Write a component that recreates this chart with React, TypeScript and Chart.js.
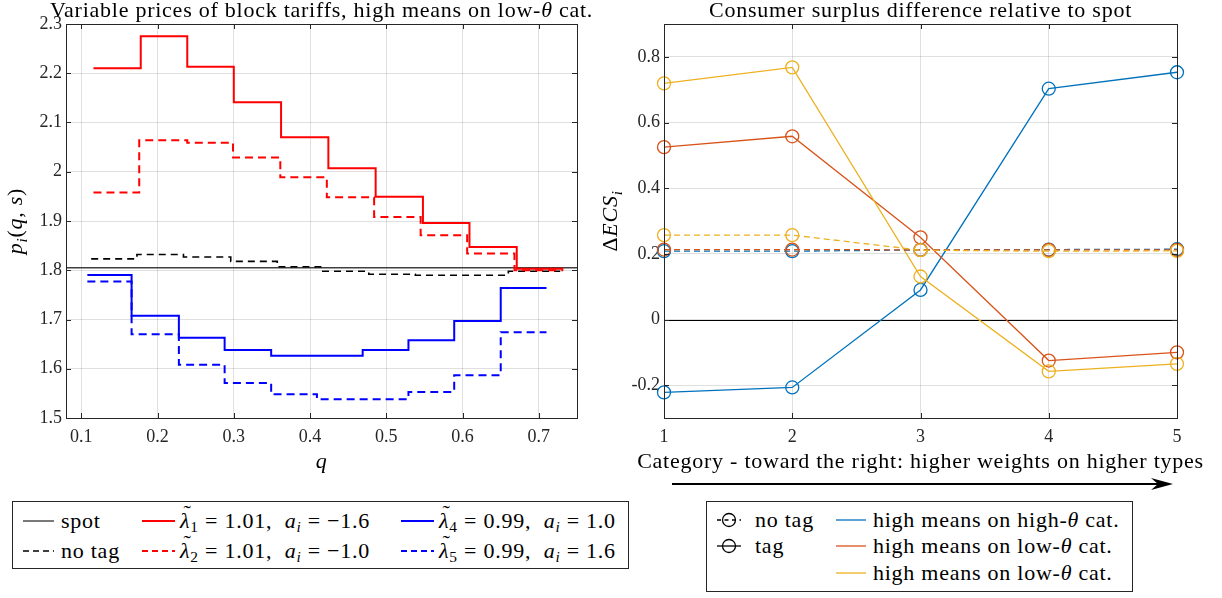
import React, { useEffect, useRef } from 'react';
import { Chart, registerables } from 'chart.js';

Chart.register(...registerables);

const FONT = "'Liberation Serif', 'Times New Roman', serif";
const AXIS_COLOR = '#262626';
const GRID_COLOR = 'rgba(38,38,38,0.15)';
const LABEL_SIZE = 22;
const LETTER_SP = '0.75px';

// ---------------- Left chart data ----------------
const qTicks = [0.1, 0.2, 0.3, 0.4, 0.5, 0.6, 0.7];
const priceTicks = [1.5, 1.6, 1.7, 1.8, 1.9, 2.0, 2.1, 2.2, 2.3];
const qMin = 0.08;
const qMax = 0.75;
const priceMin = 1.5;
const priceMax = 2.3;
const spotPrice = 1.805;

const noTagEdges = [0.113, 0.173, 0.234, 0.296, 0.357, 0.415, 0.477, 0.538, 0.599, 0.66, 0.728];
const noTagPrices = [1.823, 1.832, 1.827, 1.818, 1.807, 1.798, 1.792, 1.790, 1.790, 1.798];

const lambda1Edges = [0.116, 0.178, 0.239, 0.3, 0.362, 0.424, 0.486, 0.548, 0.609, 0.671, 0.732];
const lambda1Prices = [2.21, 2.275, 2.213, 2.141, 2.07, 2.007, 1.949, 1.896, 1.847, 1.803];

const lambda2Edges = [0.116, 0.176, 0.239, 0.299, 0.361, 0.422, 0.484, 0.545, 0.606, 0.668, 0.732];
const lambda2Prices = [1.958, 2.064, 2.059, 2.029, 1.989, 1.948, 1.908, 1.871, 1.834, 1.8];

const lambda45Edges = [0.108, 0.166, 0.228, 0.288, 0.349, 0.409, 0.469, 0.529, 0.589, 0.65, 0.71];
const lambda4Prices = [1.7905, 1.7075, 1.663, 1.638, 1.6265, 1.6265, 1.638, 1.658, 1.697, 1.764];
const lambda5Prices = [1.777, 1.67, 1.608, 1.571, 1.548, 1.538, 1.538, 1.553, 1.587, 1.674];

// ---------------- Right chart data ----------------
const categories = [1, 2, 3, 4, 5];
const csTicks = [-0.2, 0, 0.2, 0.4, 0.6, 0.8];
const csMin = -0.3;
const csMax = 0.9;
const zeroLevel = 0;

const tagHighOnHigh = [-0.222, -0.207, 0.09, 0.703, 0.753];
const tagHighOnLowA = [0.525, 0.558, 0.25, -0.125, -0.1];
const tagHighOnLowB = [0.719, 0.768, 0.131, -0.158, -0.135];
const noTagHighOnHigh = [0.208, 0.208, 0.212, 0.213, 0.214];
const noTagHighOnLowA = [0.213, 0.213, 0.212, 0.212, 0.212];
const noTagHighOnLowB = [0.257, 0.257, 0.211, 0.208, 0.209];

const BLUE = '#0072BD';
const ORANGE = '#D95319';
const YELLOW = '#EDB120';

type Seg = { t: string; it?: boolean; sub?: boolean };

function segFont(s: Seg, size: number) {
  const sz = s.sub ? Math.round(size * 0.7) : size;
  return `${s.it ? 'italic ' : ''}${sz}px ${FONT}`;
}

function drawRich(ctx: CanvasRenderingContext2D, segs: Seg[], size: number, x: number, y: number, rotate: boolean) {
  ctx.save();
  ctx.translate(x, y);
  if (rotate) ctx.rotate(-Math.PI / 2);
  ctx.textAlign = 'left';
  ctx.textBaseline = 'alphabetic';
  ctx.fillStyle = '#000';
  (ctx as any).letterSpacing = LETTER_SP;
  let total = 0;
  const widths = segs.map((s) => {
    ctx.font = segFont(s, size);
    const w = ctx.measureText(s.t).width;
    total += w;
    return w;
  });
  let cx = -total / 2;
  segs.forEach((s, i) => {
    ctx.font = segFont(s, size);
    ctx.fillText(s.t, cx, s.sub ? size * 0.22 : 0);
    cx += widths[i];
  });
  ctx.restore();
}

interface FrameCfg {
  title: Seg[];
  titleBaseline: number;
  ylabel: Seg[];
  ylabelX: number;
  xlabel: Seg[];
  xlabelBaseline: number;
  zero?: number;
  arrowY?: number;
}

function makeFramePlugin(cfg: FrameCfg) {
  return {
    id: 'matlabFrame',
    beforeDatasetsDraw(chart: any) {
      const { ctx, chartArea } = chart;
      if (cfg.zero !== undefined) {
        const y = Math.round(chart.scales.y.getPixelForValue(cfg.zero)) + 0.5;
        ctx.save();
        ctx.strokeStyle = '#000';
        ctx.lineWidth = 1;
        ctx.beginPath();
        ctx.moveTo(chartArea.left, y);
        ctx.lineTo(chartArea.right, y);
        ctx.stroke();
        ctx.restore();
      }
    },
    afterDraw(chart: any) {
      const { ctx, chartArea } = chart;
      const { left, right, top, bottom } = chartArea;
      ctx.save();
      ctx.strokeStyle = AXIS_COLOR;
      ctx.lineWidth = 1;
      ctx.strokeRect(Math.round(left) + 0.5, Math.round(top) + 0.5, Math.round(right - left), Math.round(bottom - top));
      const tl = 5;
      ctx.beginPath();
      chart.scales.x.ticks.forEach((t: any) => {
        const x = Math.round(chart.scales.x.getPixelForValue(t.value)) + 0.5;
        ctx.moveTo(x, bottom);
        ctx.lineTo(x, bottom - tl);
        ctx.moveTo(x, top);
        ctx.lineTo(x, top + tl);
      });
      chart.scales.y.ticks.forEach((t: any) => {
        const y = Math.round(chart.scales.y.getPixelForValue(t.value)) + 0.5;
        ctx.moveTo(left, y);
        ctx.lineTo(left + tl, y);
        ctx.moveTo(right, y);
        ctx.lineTo(right - tl, y);
      });
      ctx.stroke();
      ctx.restore();

      drawRich(ctx, cfg.title, LABEL_SIZE, (left + right) / 2, cfg.titleBaseline, false);
      drawRich(ctx, cfg.ylabel, LABEL_SIZE, cfg.ylabelX, (top + bottom) / 2, true);
      drawRich(ctx, cfg.xlabel, LABEL_SIZE, (left + right) / 2, cfg.xlabelBaseline, false);

      if (cfg.arrowY !== undefined) {
        const y = cfg.arrowY;
        const x1 = left + 8;
        const x2 = right - 4;
        ctx.save();
        ctx.strokeStyle = '#000';
        ctx.fillStyle = '#000';
        ctx.lineWidth = 2;
        ctx.beginPath();
        ctx.moveTo(x1, y);
        ctx.lineTo(x2 - 12, y);
        ctx.stroke();
        ctx.beginPath();
        ctx.moveTo(x2, y);
        ctx.lineTo(x2 - 22, y - 6);
        ctx.lineTo(x2 - 15, y);
        ctx.lineTo(x2 - 22, y + 6);
        ctx.closePath();
        ctx.fill();
        ctx.restore();
      }
    },
  };
}

function steps(edges: number[], levels: number[]) {
  return edges.map((x, i) => ({ x, y: levels[Math.min(i, levels.length - 1)] }));
}

function scalesFor(o: {
  xMin: number; xMax: number; xTicks: number[];
  yMin: number; yMax: number; yTicks: number[];
  yWidth: number; xHeight: number;
}) {
  const tickFont = { family: FONT, size: 18 };
  return {
    x: {
      type: 'linear',
      min: o.xMin,
      max: o.xMax,
      afterBuildTicks: (s: any) => { s.ticks = o.xTicks.map((v) => ({ value: v })); },
      afterFit: (s: any) => { s.height = o.xHeight; },
      grid: { color: GRID_COLOR, lineWidth: 1, drawTicks: false },
      border: { display: false },
      ticks: { font: tickFont, color: AXIS_COLOR, padding: 8, maxRotation: 0, callback: (v: any) => `${Number(v)}` },
    },
    y: {
      type: 'linear',
      min: o.yMin,
      max: o.yMax,
      afterBuildTicks: (s: any) => { s.ticks = o.yTicks.map((v) => ({ value: v })); },
      afterFit: (s: any) => { s.width = o.yWidth; },
      grid: { color: GRID_COLOR, lineWidth: 1, drawTicks: false },
      border: { display: false },
      ticks: { font: tickFont, color: AXIS_COLOR, padding: 4, callback: (v: any) => `${Number(v)}` },
    },
  };
}

function leftConfig(): any {
  const stepDs = (label: string, edges: number[], levels: number[], color: string, width: number, dash: number[]) => ({
    label,
    data: steps(edges, levels),
    stepped: 'before',
    borderColor: color,
    borderWidth: width,
    borderDash: dash,
    pointRadius: 0,
    fill: false,
  });
  return {
    type: 'line',
    data: {
      datasets: [
        stepDs('λ1', lambda1Edges, lambda1Prices, '#FF0000', 2, []),
        stepDs('λ2', lambda2Edges, lambda2Prices, '#FF0000', 2, [8, 5]),
        stepDs('λ4', lambda45Edges, lambda4Prices, '#0000FF', 2, []),
        stepDs('λ5', lambda45Edges, lambda5Prices, '#0000FF', 2, [8, 5]),
        stepDs('no tag', noTagEdges, noTagPrices, '#000000', 1.6, [7, 5]),
        {
          label: 'spot',
          data: [{ x: qMin, y: spotPrice }, { x: qMax, y: spotPrice }],
          borderColor: '#404040',
          borderWidth: 1.4,
          pointRadius: 0,
          fill: false,
        },
      ],
    },
    options: {
      responsive: false,
      animation: false,
      layout: { padding: { left: 0, right: 23, top: 24, bottom: 0 } },
      plugins: { legend: { display: false }, tooltip: { enabled: false }, title: { display: false } },
      scales: scalesFor({
        xMin: qMin, xMax: qMax, xTicks: qTicks,
        yMin: priceMin, yMax: priceMax, yTicks: priceTicks,
        yWidth: 66, xHeight: 62,
      }),
    },
    plugins: [
      makeFramePlugin({
        title: [
          { t: 'Variable prices of block tariffs, high means on low-' },
          { t: 'θ', it: true },
          { t: ' cat.' },
        ],
        titleBaseline: 17,
        ylabel: [
          { t: 'p', it: true },
          { t: 'i', it: true, sub: true },
          { t: '(' },
          { t: 'q', it: true },
          { t: ', ' },
          { t: 's', it: true },
          { t: ')' },
        ],
        ylabelX: 22,
        xlabel: [{ t: 'q', it: true }],
        xlabelBaseline: 468,
      }),
    ],
  };
}

function rightConfig(): any {
  const ds = (label: string, values: number[], color: string, dash: number[]) => ({
    label,
    data: categories.map((c, i) => ({ x: c, y: values[i] })),
    borderColor: color,
    borderWidth: 1.3,
    borderDash: dash,
    pointRadius: 6.5,
    pointBorderWidth: 1.3,
    pointBorderColor: color,
    pointBackgroundColor: 'rgba(0,0,0,0)',
    fill: false,
    clip: false,
  });
  return {
    type: 'line',
    data: {
      datasets: [
        ds('no tag low B', noTagHighOnLowB, YELLOW, [6, 4]),
        ds('no tag low A', noTagHighOnLowA, ORANGE, [6, 4]),
        ds('no tag high', noTagHighOnHigh, BLUE, [6, 4]),
        ds('tag low B', tagHighOnLowB, YELLOW, []),
        ds('tag low A', tagHighOnLowA, ORANGE, []),
        ds('tag high', tagHighOnHigh, BLUE, []),
      ],
    },
    options: {
      responsive: false,
      animation: false,
      layout: { padding: { left: 0, right: 45, top: 24, bottom: 0 } },
      plugins: { legend: { display: false }, tooltip: { enabled: false }, title: { display: false } },
      scales: scalesFor({
        xMin: categories[0], xMax: categories[categories.length - 1], xTicks: categories,
        yMin: csMin, yMax: csMax, yTicks: csTicks,
        yWidth: 64, xHeight: 82,
      }),
    },
    plugins: [
      makeFramePlugin({
        title: [{ t: 'Consumer surplus difference relative to spot' }],
        titleBaseline: 17,
        ylabel: [
          { t: 'Δ' },
          { t: 'ECS', it: true },
          { t: 'i', it: true, sub: true },
        ],
        ylabelX: 17,
        xlabel: [{ t: 'Category - toward the right: higher weights on higher types' }],
        xlabelBaseline: 468,
        zero: zeroLevel,
        arrowY: 484,
      }),
    ],
  };
}

// ---------------- Legends (HTML) ----------------
const subStyle: React.CSSProperties = { fontSize: '0.7em', position: 'relative', top: '0.28em', lineHeight: 0 };

function Lam({ n }: { n: number }) {
  return (
    <span>
      <span style={{ position: 'relative', display: 'inline-block' }}>
        <i>λ</i>
        <span style={{ position: 'absolute', left: '0.16em', top: '-0.36em', fontSize: '1em' }}>˜</span>
      </span>
      <span style={subStyle}>{n}</span>
    </span>
  );
}

function Ai() {
  return (
    <i>
      a<span style={subStyle}>i</span>
    </i>
  );
}

function LineSample(p: { x: number; y: number; w: number; color: string; width: number; dash?: string }) {
  return (
    <svg style={{ position: 'absolute', left: p.x, top: p.y - 8, overflow: 'visible' }} width={p.w} height={16}>
      <line x1={0} y1={8} x2={p.w} y2={8} stroke={p.color} strokeWidth={p.width} strokeDasharray={p.dash} />
    </svg>
  );
}

function MarkerSample(p: { x: number; y: number; dashed: boolean }) {
  return (
    <svg style={{ position: 'absolute', left: p.x, top: p.y - 8, overflow: 'visible' }} width={24} height={16}>
      <line x1={0} y1={8} x2={24} y2={8} stroke="#000" strokeWidth={1.3} strokeDasharray={p.dashed ? '4,3.5' : undefined} />
      <circle cx={12} cy={8} r={6.5} fill="none" stroke="#000" strokeWidth={1.3} />
    </svg>
  );
}

const textStyle = (x: number, y: number, wordSpacing = 0): React.CSSProperties => ({
  position: 'absolute',
  left: x,
  top: y - 13,
  fontSize: LABEL_SIZE,
  lineHeight: '26px',
  letterSpacing: LETTER_SP,
  wordSpacing,
  whiteSpace: 'pre',
  color: '#000',
});

function LeftLegend() {
  const r1 = 19;
  const r2 = 49;
  return (
    <div style={{ position: 'absolute', left: 12, top: 501, width: 617, height: 68, border: `1px solid ${AXIS_COLOR}`, boxSizing: 'border-box', background: '#fff', fontFamily: FONT }}>
      <LineSample x={10} y={r1} w={31} color="#404040" width={1.4} />
      <div style={textStyle(48, r1)}>spot</div>
      <LineSample x={10} y={r2} w={31} color="#000" width={1.6} dash="6,4" />
      <div style={textStyle(48, r2)}>no tag</div>

      <LineSample x={129} y={r1} w={33} color="#FF0000" width={2} />
      <div style={textStyle(167, r1, 0)}><Lam n={1} /> = 1.01,  <Ai /> = −1.6</div>
      <LineSample x={129} y={r2} w={33} color="#FF0000" width={2} dash="6,4" />
      <div style={textStyle(167, r2, 0)}><Lam n={2} /> = 1.01,  <Ai /> = −1.0</div>

      <LineSample x={388} y={r1} w={33} color="#0000FF" width={2} />
      <div style={textStyle(426, r1, 0)}><Lam n={4} /> = 0.99,  <Ai /> = 1.0</div>
      <LineSample x={388} y={r2} w={33} color="#0000FF" width={2} dash="6,4" />
      <div style={textStyle(426, r2, 0)}><Lam n={5} /> = 0.99,  <Ai /> = 1.6</div>
    </div>
  );
}

function RightLegend() {
  const rows = [18, 44, 71];
  return (
    <div style={{ position: 'absolute', left: 706, top: 501, width: 427, height: 91, border: `1px solid ${AXIS_COLOR}`, boxSizing: 'border-box', background: '#fff', fontFamily: FONT }}>
      <MarkerSample x={10} y={rows[0]} dashed={true} />
      <div style={textStyle(48, rows[0])}>no tag</div>
      <MarkerSample x={10} y={rows[1]} dashed={false} />
      <div style={textStyle(48, rows[1])}>tag</div>

      <LineSample x={129} y={rows[0]} w={30} color={BLUE} width={1.3} />
      <div style={textStyle(166, rows[0])}>high means on high-<i>θ</i> cat.</div>
      <LineSample x={129} y={rows[1]} w={30} color={ORANGE} width={1.3} />
      <div style={textStyle(166, rows[1])}>high means on low-<i>θ</i> cat.</div>
      <LineSample x={129} y={rows[2]} w={30} color={YELLOW} width={1.3} />
      <div style={textStyle(166, rows[2])}>high means on low-<i>θ</i> cat.</div>
    </div>
  );
}

export default function App() {
  const leftRef = useRef<HTMLCanvasElement>(null);
  const rightRef = useRef<HTMLCanvasElement>(null);

  useEffect(() => {
    const c1 = new Chart(leftRef.current as HTMLCanvasElement, leftConfig());
    const c2 = new Chart(rightRef.current as HTMLCanvasElement, rightConfig());
    return () => {
      c1.destroy();
      c2.destroy();
    };
  }, []);

  return (
    <div style={{ position: 'absolute', left: 0, top: 0, width: 1222, height: 598, background: '#fff', fontFamily: FONT, overflow: 'hidden' }}>
      <canvas ref={leftRef} width={600} height={480} style={{ position: 'absolute', left: 0, top: 0, width: 600, height: 480 }} />
      <canvas ref={rightRef} width={622} height={500} style={{ position: 'absolute', left: 600, top: 0, width: 622, height: 500 }} />
      <LeftLegend />
      <RightLegend />
    </div>
  );
}
